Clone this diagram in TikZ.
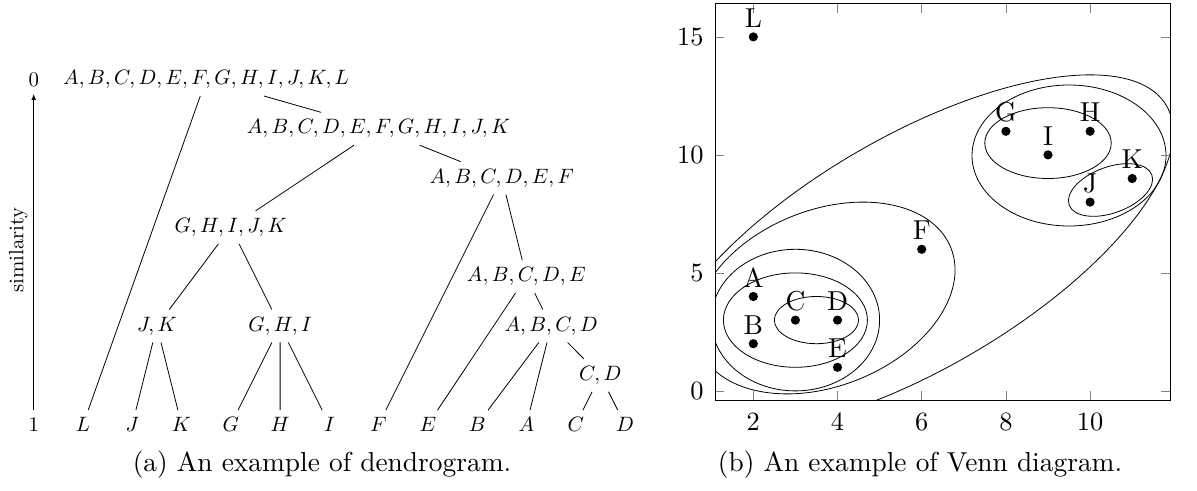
\documentclass[tikz,border=0pt]{standalone}
\usetikzlibrary{arrows.meta}
\begin{document}
\begin{tikzpicture}[x=0.5pt,y=-0.5pt,
  dlab/.style={font=\normalsize, scale=1.04, transform shape},
  vlab/.style={font=\normalsize, scale=1.37, transform shape},
  tlab/.style={font=\normalsize, scale=1.32, transform shape, inner sep=0pt},
  caption/.style={font=\normalsize, scale=1.37, transform shape},
  vdot/.style={circle, fill=black, inner sep=0pt, minimum size=4.6pt},
  tree/.style={line width=0.4pt},
  venn/.style={line width=0.4pt},
  tickmark/.style={gray, line width=0.3pt}]
\useasboundingbox (0,0) rectangle (1197,491);

% ---------------- (a) dendrogram ----------------
\node[dlab] (s0) at (33.7,79.5) {0};
\node[dlab] (s1) at (33.7,424.6) {1};
\draw[-{Latex[length=3pt,width=2.4pt]}] (s1) -- (s0);
\node[dlab, rotate=90] (sim) at (18.3,250) {similarity};

\node[dlab] (root) at (206.2,79.5) {$A,B,C,D,E,F,G,H,I,J,K,L$};
\node[dlab] (n1) at (378.6,128.8) {$A,B,C,D,E,F,G,H,I,J,K$};
\node[dlab] (n2) at (501.8,178.1) {$A,B,C,D,E,F$};
\node[dlab] (n3) at (230.8,227.4) {$G,H,I,J,K$};
\node[dlab] (n4) at (526.4,276.7) {$A,B,C,D,E$};
\node[dlab] (n5) at (156.9,326) {$J,K$};
\node[dlab] (n6) at (280.1,326) {$G,H,I$};
\node[dlab] (n7) at (551.1,326) {$A,B,C,D$};
\node[dlab] (n8) at (600.3,375.3) {$C,D$};

\node[dlab] (lL) at (83,424.6) {$L$};
\node[dlab] (lJ) at (132.3,424.6) {$J$};
\node[dlab] (lK) at (181.5,424.6) {$K$};
\node[dlab] (lG) at (230.8,424.6) {$G$};
\node[dlab] (lH) at (280.1,424.6) {$H$};
\node[dlab] (lI) at (329.4,424.6) {$I$};
\node[dlab] (lF) at (378.6,424.6) {$F$};
\node[dlab] (lE) at (427.9,424.6) {$E$};
\node[dlab] (lB) at (477.2,424.6) {$B$};
\node[dlab] (lA) at (526.4,424.6) {$A$};
\node[dlab] (lC) at (575.7,424.6) {$C$};
\node[dlab] (lD) at (625,424.6) {$D$};

\draw[tree] (root) -- (lL);
\draw[tree] (root) -- (n1);
\draw[tree] (n1) -- (n3);
\draw[tree] (n1) -- (n2);
\draw[tree] (n2) -- (lF);
\draw[tree] (n2) -- (n4);
\draw[tree] (n3) -- (n5);
\draw[tree] (n3) -- (n6);
\draw[tree] (n5) -- (lJ);
\draw[tree] (n5) -- (lK);
\draw[tree] (n6) -- (lG);
\draw[tree] (n6) -- (lH);
\draw[tree] (n6) -- (lI);
\draw[tree] (n4) -- (lE);
\draw[tree] (n4) -- (n7);
\draw[tree] (n7) -- (lB);
\draw[tree] (n7) -- (lA);
\draw[tree] (n7) -- (n8);
\draw[tree] (n8) -- (lC);
\draw[tree] (n8) -- (lD);

\node[caption] (capa) at (322,465) {(a) An example of dendrogram.};

% ---------------- (b) Venn diagram ----------------
% data -> px : X = 669.1 + 42.1 x ,  Y = 390.9 - 23.6 y
\begin{scope}
\clip (715.4,3.9) rectangle (1170.1,400.3);
\draw[venn] (816.45,320.1) ellipse [x radius=42.1, y radius=23.6];
\draw[venn] (795.4,320.1) ellipse [x radius=72, y radius=47.2];
\draw[venn] (795.4,320.1) ellipse [x radius=84.2, y radius=70.8];
\draw[venn, rotate around={21.7:(825,298)}] (825,298) ellipse [x radius=135.5, y radius=88];
\draw[venn, rotate around={30.3:(913.7,253.3)}] (913.7,253.3) ellipse [x radius=292.7, y radius=116];
\draw[venn] (1069,155.5) ellipse [x radius=97, y radius=70.5];
\draw[venn] (1048,143.1) ellipse [x radius=63.2, y radius=35.4];
\draw[venn, rotate around={20:(1110.5,190)}] (1110.5,190) ellipse [x radius=44, y radius=23];
\end{scope}

% ticks
\foreach \tx in {753.3,837.4,921.7,1005.9,1090.1}{
  \draw[tickmark] (\tx,400.3) -- (\tx,391.3);
  \draw[tickmark] (\tx,3.9) -- (\tx,12.9);
}
\foreach \ty in {37.3,155.3,272.9,390.9}{
  \draw[tickmark] (715.4,\ty) -- (724.4,\ty);
  \draw[tickmark] (1170.1,\ty) -- (1161.1,\ty);
}
\draw[line width=0.5pt] (715.4,3.9) rectangle (1170.1,400.3);

\node[tlab, anchor=east] (y15) at (704,37.3) {15};
\node[tlab, anchor=east] (y10) at (704,155.3) {10};
\node[tlab, anchor=east] (y5) at (704,272.9) {5};
\node[tlab, anchor=east] (y0) at (704,390.9) {0};
\node[tlab, anchor=north] (x2) at (753.3,412) {2};
\node[tlab, anchor=north] (x4) at (837.4,412) {4};
\node[tlab, anchor=north] (x6) at (921.7,412) {6};
\node[tlab, anchor=north] (x8) at (1005.9,412) {8};
\node[tlab, anchor=north] (x10) at (1090.1,412) {10};

% points
\node[vdot] (pA) at (753.3,296.5) {};
\node[vdot] (pB) at (753.3,343.7) {};
\node[vdot] (pC) at (795.4,320.1) {};
\node[vdot] (pD) at (837.5,320.1) {};
\node[vdot] (pE) at (837.5,367.3) {};
\node[vdot] (pF) at (921.7,249.3) {};
\node[vdot] (pG) at (1005.9,131.3) {};
\node[vdot] (pH) at (1090.1,131.3) {};
\node[vdot] (pI) at (1048,154.9) {};
\node[vdot] (pJ) at (1090.1,202.1) {};
\node[vdot] (pK) at (1132.2,178.5) {};
\node[vdot] (pL) at (753.3,36.9) {};
\foreach \p in {A,B,C,D,E,F,G,H,I,J,K,L}{
  \node[vlab] (t\p) at ([yshift=9.5pt]p\p.center) {\p};
}

\node[caption] (capb) at (920,465) {(b) An example of Venn diagram.};
\end{tikzpicture}
\end{document}
